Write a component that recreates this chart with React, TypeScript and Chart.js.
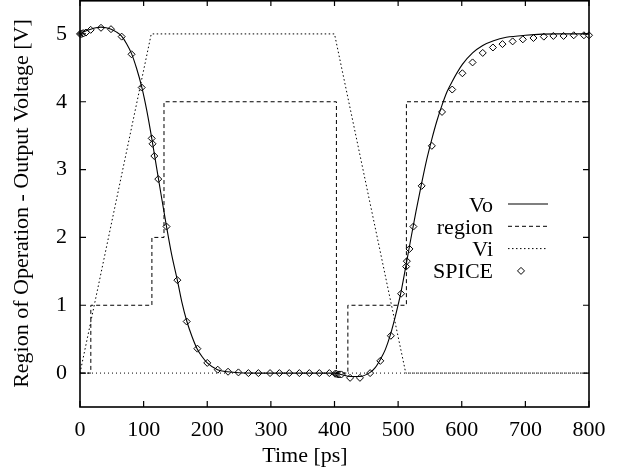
import React, { useEffect, useRef } from 'react';
import { Chart, registerables } from 'chart.js';

Chart.register(...registerables);

// ---- data ----
const xTickValues = [0, 100, 200, 300, 400, 500, 600, 700, 800];
const yTickValues = [0, 1, 2, 3, 4, 5];
const seriesLabels = ['Vo', 'region', 'Vi', 'SPICE'];
const xTitle = 'Time [ps]';
const yTitle = 'Region of Operation - Output Voltage [V]';

const voX = [0, 8, 17, 25, 33, 41, 49, 57, 65, 73, 81, 89, 97, 105, 113, 120, 128, 136, 144, 153, 160, 168, 176, 184, 192, 200, 216, 232, 250, 280, 320, 360, 400, 410, 425, 440, 456, 464, 472, 480, 488, 496, 504, 513, 520, 528, 537, 545, 553, 561, 569, 577, 585, 601, 617, 633, 650, 670, 700, 750, 800];
const voY = [5.0, 5.04, 5.07, 5.09, 5.1, 5.09, 5.07, 5.03, 4.97, 4.86, 4.71, 4.49, 4.22, 3.87, 3.45, 3.05, 2.6, 2.16, 1.75, 1.37, 1.05, 0.76, 0.54, 0.36, 0.24, 0.15, 0.05, 0.02, 0.005, 0, 0, 0, 0, -0.02, -0.05, -0.05, 0.01, 0.08, 0.2, 0.35, 0.57, 0.85, 1.17, 1.62, 1.98, 2.38, 2.8, 3.15, 3.45, 3.72, 3.95, 4.15, 4.3, 4.55, 4.72, 4.83, 4.9, 4.95, 4.98, 5.0, 5.0];

const regionX = [0, 17, 113, 132, 403, 421, 513, 800];
const regionY = [0, 1, 2, 4, 0, 1, 4, 4];

const viX = [0, 112, 400, 512, 800];
const viY = [0, 5, 5, 0, 0];

const spiceX = [0, 1.5, 3, 4.5, 6, 9.4, 16.8, 33, 48.7, 65.5, 81, 97, 112.7, 114, 116.8, 123, 136, 153, 167.7, 184.5, 200, 216.5, 232.7, 249, 264.7, 280.4, 298.7, 313.4, 329, 344.8, 360.5, 376.2, 391.9, 401, 403, 405, 407, 409, 411, 424.5, 440, 456, 472, 488.6, 504.7, 512.6, 513.7, 517.8, 524, 537, 553, 569, 585, 601, 617, 633, 649, 664, 680, 696, 712.7, 729, 744, 760, 776, 792, 800];
const spiceY = [5.0, 5.0, 5.0, 5.01, 5.01, 5.02, 5.06, 5.09, 5.07, 4.96, 4.7, 4.21, 3.46, 3.38, 3.2, 2.86, 2.16, 1.37, 0.76, 0.36, 0.15, 0.05, 0.02, 0.01, 0, 0, 0, 0, 0, 0, 0, 0, 0, -0.01, -0.01, -0.02, -0.02, -0.02, -0.02, -0.07, -0.07, 0.0, 0.18, 0.55, 1.17, 1.57, 1.65, 1.83, 2.16, 2.76, 3.35, 3.85, 4.18, 4.42, 4.58, 4.72, 4.8, 4.85, 4.89, 4.92, 4.94, 4.96, 4.97, 4.97, 4.98, 4.98, 4.98];

const toPoints = (xs: number[], ys: number[]) => xs.map((x, i) => ({ x, y: ys[i] }));

const FONT_FAMILY = '"Liberation Serif", "Times New Roman", serif';
const FONT_SIZE = 22;

const gnuplotPlugin = {
  id: 'gnuplotDecor',
  beforeDatasetsDraw(chart: any) {
    const { ctx, chartArea, scales } = chart;
    const y0 = scales.y.getPixelForValue(0);
    ctx.save();
    ctx.strokeStyle = '#000';
    ctx.lineWidth = 1;
    ctx.setLineDash([1, 3]);
    ctx.beginPath();
    ctx.moveTo(chartArea.left, y0);
    ctx.lineTo(chartArea.right, y0);
    ctx.stroke();
    ctx.restore();
  },
  afterDatasetsDraw(chart: any) {
    const { ctx, chartArea, scales } = chart;
    const { left, right, top, bottom } = chartArea;
    const tick = 6;
    ctx.save();
    ctx.strokeStyle = '#000';
    ctx.lineWidth = 1.6;
    ctx.setLineDash([]);
    ctx.strokeRect(left, top + 0.8, right - left, bottom - top - 0.8);
    ctx.lineWidth = 1.2;
    ctx.beginPath();
    xTickValues.forEach((v) => {
      const px = scales.x.getPixelForValue(v);
      ctx.moveTo(px, bottom);
      ctx.lineTo(px, bottom - tick);
      ctx.moveTo(px, top);
      ctx.lineTo(px, top + tick);
    });
    yTickValues.forEach((v) => {
      const py = scales.y.getPixelForValue(v);
      ctx.moveTo(left, py);
      ctx.lineTo(left + tick, py);
      ctx.moveTo(right, py);
      ctx.lineTo(right - tick, py);
    });
    ctx.stroke();

    // legend (gnuplot style: right aligned text, then sample)
    const textRight = 493;
    const sampleL = 508;
    const sampleR = 548;
    const rowY0 = 204;
    const rowStep = 22.3;
    ctx.font = `${FONT_SIZE}px ${FONT_FAMILY}`;
    ctx.fillStyle = '#000';
    ctx.textAlign = 'right';
    ctx.textBaseline = 'alphabetic';
    chart.data.datasets.forEach((ds: any, i: number) => {
      const y = rowY0 + i * rowStep;
      ctx.fillText(ds.label, textRight, y + 7.5);
      if (ds.showLine !== false) {
        ctx.save();
        ctx.strokeStyle = ds.borderColor;
        ctx.lineWidth = ds.borderWidth;
        ctx.setLineDash(ds.borderDash || []);
        ctx.beginPath();
        ctx.moveTo(sampleL, y);
        ctx.lineTo(sampleR, y);
        ctx.stroke();
        ctx.restore();
      } else {
        const r = ds.pointRadius;
        const cx = 521;
        ctx.save();
        ctx.strokeStyle = ds.borderColor;
        ctx.fillStyle = ds.backgroundColor;
        ctx.lineWidth = ds.borderWidth;
        ctx.beginPath();
        ctx.moveTo(cx, y - r);
        ctx.lineTo(cx + r, y);
        ctx.lineTo(cx, y + r);
        ctx.lineTo(cx - r, y);
        ctx.closePath();
        ctx.fill();
        ctx.stroke();
        ctx.restore();
      }
    });

    // axis titles
    ctx.textAlign = 'center';
    ctx.textBaseline = 'alphabetic';
    ctx.fillText(xTitle, 305, 462);
    ctx.save();
    ctx.translate(28, (top + bottom) / 2);
    ctx.rotate(-Math.PI / 2);
    ctx.fillText(yTitle, 0, 0);
    ctx.restore();
    ctx.restore();
  },
};

export default function App() {
  const canvasRef = useRef<HTMLCanvasElement | null>(null);

  useEffect(() => {
    if (!canvasRef.current) return;
    const tickFont = { family: FONT_FAMILY, size: FONT_SIZE };
    const chart = new Chart(canvasRef.current, {
      type: 'scatter',
      data: {
        datasets: [
          {
            label: seriesLabels[0],
            data: toPoints(voX, voY),
            showLine: true,
            borderColor: '#000',
            borderWidth: 1.1,
            pointRadius: 0,
            cubicInterpolationMode: 'monotone',
          } as any,
          {
            label: seriesLabels[1],
            data: toPoints(regionX, regionY),
            showLine: true,
            stepped: 'before',
            borderColor: '#000',
            borderWidth: 1,
            borderDash: [4, 3],
            pointRadius: 0,
          },
          {
            label: seriesLabels[2],
            data: toPoints(viX, viY),
            showLine: true,
            borderColor: '#000',
            borderWidth: 1,
            borderDash: [1.5, 2.5],
            pointRadius: 0,
          },
          {
            label: seriesLabels[3],
            data: toPoints(spiceX, spiceY),
            showLine: false,
            pointStyle: 'rectRot',
            pointRadius: 3.5,
            borderColor: '#000',
            backgroundColor: '#fff',
            borderWidth: 1,
            clip: false,
          } as any,
        ],
      },
      options: {
        responsive: false,
        animation: false,
        devicePixelRatio: 1,
        layout: { autoPadding: false, padding: { top: 0, right: 34, left: 0, bottom: 0 } },
        plugins: {
          legend: { display: false },
          tooltip: { enabled: false },
        },
        scales: {
          x: {
            type: 'linear',
            min: 0,
            max: 800,
            afterBuildTicks: (s: any) => {
              s.ticks = xTickValues.map((v) => ({ value: v }));
            },
            afterFit: (s: any) => {
              s.height = 62;
              s.paddingLeft = 0;
              s.paddingRight = 0;
            },
            ticks: {
              font: tickFont,
              color: '#000',
              padding: 10,
              maxRotation: 0,
              autoSkip: false,
              callback: (v: any) => String(v),
            },
            grid: { display: false, drawTicks: false },
            border: { display: false },
          },
          y: {
            type: 'linear',
            min: -0.5,
            max: 5.5,
            afterBuildTicks: (s: any) => {
              s.ticks = yTickValues.map((v) => ({ value: v }));
            },
            afterFit: (s: any) => {
              s.width = 80;
              s.paddingTop = 0;
              s.paddingBottom = 0;
            },
            ticks: {
              font: tickFont,
              color: '#000',
              padding: 13,
              autoSkip: false,
              callback: (v: any) => String(v),
            },
            grid: { display: false, drawTicks: false },
            border: { display: false },
          },
        },
      },
      plugins: [gnuplotPlugin],
    });
    return () => chart.destroy();
  }, []);

  return (
    <div style={{ position: 'absolute', left: 0, top: 0, width: 623, height: 469, background: '#fff' }}>
      <canvas ref={canvasRef} width={623} height={469} style={{ width: 623, height: 469, display: 'block' }} />
    </div>
  );
}
